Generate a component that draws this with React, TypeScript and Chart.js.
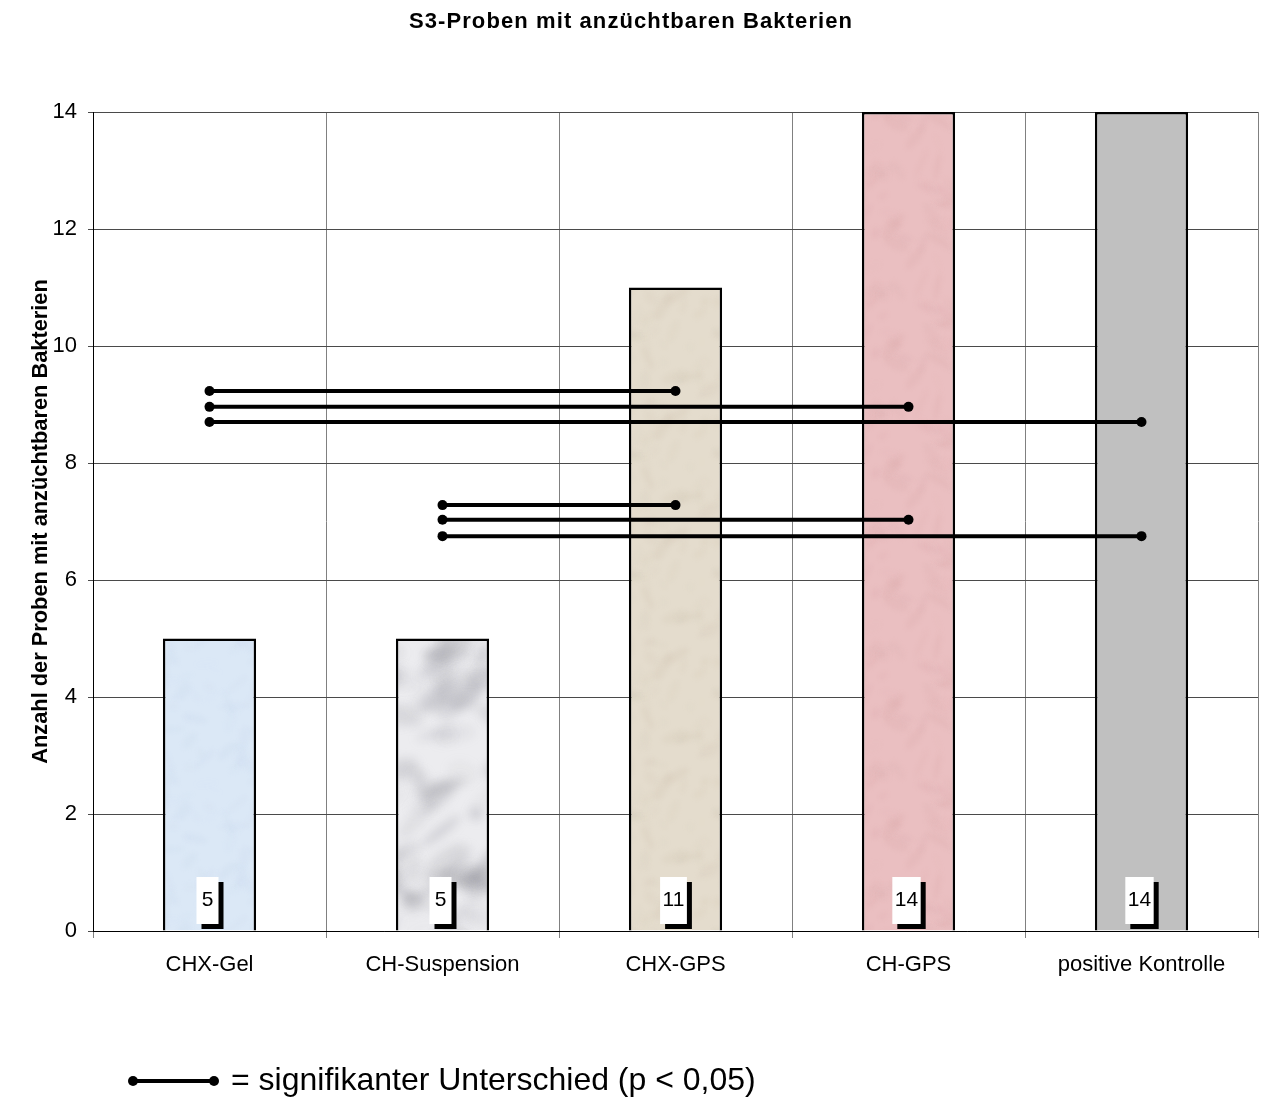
import React, { useEffect, useRef } from 'react';
import { Chart, registerables } from 'chart.js';

Chart.register(...registerables);

// ---- data ----
const categories = ['CHX-Gel', 'CH-Suspension', 'CHX-GPS', 'CH-GPS', 'positive Kontrolle'];
const counts = [5, 5, 11, 14, 14];
const barColors = ['#dbe8f6', '#ececef', '#e4dccd', '#eabfc1', '#c0c0c0'];
const blotchColors = ['#c3d4ea', '#8f8f98', '#cfc4b0', '#d8a6a8', '#c0c0c0'];

const sigFrom = ['CHX-Gel', 'CHX-Gel', 'CHX-Gel', 'CH-Suspension', 'CH-Suspension', 'CH-Suspension'];
const sigTo = ['CHX-GPS', 'CH-GPS', 'positive Kontrolle', 'CHX-GPS', 'CH-GPS', 'positive Kontrolle'];
const sigLevel = [9.23, 8.96, 8.7, 7.28, 7.03, 6.75];

const yMin = 0;
const yMax = 14;
const yStep = 2;

const titleText = 'S3-Proben mit anzüchtbaren Bakterien';
const yTitleText = 'Anzahl der Proben mit anzüchtbaren Bakterien';
const legendText = '= signifikanter Unterschied (p < 0,05)';

const FONT = '"Liberation Sans", Arial, Helvetica, sans-serif';

function makeTexture(base: string, blotch: string, seed: number, marble: boolean) {
  const w = 96;
  const h = marble ? 300 : 120;
  const c = document.createElement('canvas');
  c.width = w;
  c.height = h;
  const g = c.getContext('2d')!;
  g.fillStyle = base;
  g.fillRect(0, 0, w, h);
  let s = seed;
  const rnd = () => {
    s = (s * 1103515245 + 12345) % 2147483648;
    return s / 2147483648;
  };
  (g as any).filter = `blur(${marble ? 5 : 2}px)`;
  g.fillStyle = blotch;
  const n = marble ? 70 : 36;
  for (let i = 0; i < n; i++) {
    g.globalAlpha = (marble ? 0.3 : 0.22) * rnd();
    const x = rnd() * w;
    const y = rnd() * h;
    const rx = marble ? 6 + rnd() * 22 : 4 + rnd() * 12;
    const ry = marble ? 3 + rnd() * 9 : 2 + rnd() * 4;
    const a = marble ? -0.9 + rnd() * 1.4 : rnd() * Math.PI;
    for (const dx of [-w, 0, w]) {
      for (const dy of [-h, 0, h]) {
        g.beginPath();
        g.ellipse(x + dx, y + dy, rx, ry, a, 0, Math.PI * 2);
        g.fill();
      }
    }
  }
  g.globalAlpha = 1;
  return g.createPattern(c, 'repeat');
}

export default function App() {
  const ref = useRef<HTMLCanvasElement>(null);

  useEffect(() => {
    document.body.style.margin = '0';
    const canvas = ref.current!;
    const ctx2d = canvas.getContext('2d')!;

    const patterns = barColors.map((c, i) =>
      i === 4 ? c : makeTexture(c, blotchColors[i], 17 + i * 31, i === 1)
    );

    const sigDatasets = sigLevel.map((lvl, i) => ({
      type: 'line' as const,
      data: [
        { x: sigFrom[i], y: lvl },
        { x: sigTo[i], y: lvl },
      ],
      borderColor: '#000',
      borderWidth: 4,
      pointRadius: 5,
      pointBackgroundColor: '#000',
      pointBorderWidth: 0,
      pointHoverRadius: 5,
      fill: false,
      order: 0,
    }));

    const overlay = {
      id: 'overlay',
      afterDatasetsDraw(chart: any) {
        const c = chart.ctx;
        const meta = chart.getDatasetMeta(0);
        const y0 = chart.scales.y.getPixelForValue(0);
        c.save();
        c.font = `21px ${FONT}`;
        meta.data.forEach((bar: any, i: number) => {
          const txt = String(counts[i]);
          const tw = c.measureText(txt).width;
          const w = Math.max(22, tw + 5);
          const h = 47;
          const cx = bar.x - 2;
          const left = cx - w / 2;
          const top = y0 - 7 - h;
          c.fillStyle = '#000';
          c.fillRect(left + 5, top + 5, w, h);
          c.fillStyle = '#fff';
          c.fillRect(left, top, w, h);
          c.fillStyle = '#000';
          c.textAlign = 'center';
          c.textBaseline = 'middle';
          c.fillText(txt, cx, top + h / 2);
        });
        c.restore();
      },
      afterDraw(chart: any) {
        const c = chart.ctx;
        const area = chart.chartArea;
        c.save();
        // title
        c.fillStyle = '#000';
        c.font = `bold 22px ${FONT}`;
        (c as any).letterSpacing = '1.1px';
        c.textAlign = 'center';
        c.textBaseline = 'middle';
        c.fillText(titleText, 631, 22);
        (c as any).letterSpacing = '0px';
        // y title
        c.save();
        c.translate(41, (area.top + area.bottom) / 2);
        c.rotate(-Math.PI / 2);
        c.font = `bold 21.8px ${FONT}`;
        c.textAlign = 'center';
        c.textBaseline = 'middle';
        c.fillText(yTitleText, 0, 0);
        c.restore();
        // legend
        const ly = 1081;
        c.strokeStyle = '#000';
        c.lineWidth = 4;
        c.beginPath();
        c.moveTo(133, ly);
        c.lineTo(214, ly);
        c.stroke();
        c.beginPath();
        c.arc(133, ly, 5, 0, Math.PI * 2);
        c.fill();
        c.beginPath();
        c.arc(214, ly, 5, 0, Math.PI * 2);
        c.fill();
        c.font = `32px ${FONT}`;
        c.textAlign = 'left';
        c.textBaseline = 'middle';
        c.fillText(legendText, 231, ly);
        c.restore();
      },
    };

    const chart = new Chart(ctx2d, {
      type: 'bar',
      data: {
        labels: categories,
        datasets: [
          {
            type: 'bar',
            data: counts,
            backgroundColor: patterns as any,
            borderColor: '#000',
            borderWidth: 2.5,
            borderSkipped: 'bottom',
            categoryPercentage: 1,
            barPercentage: 0.4,
            order: 1,
          } as any,
          ...sigDatasets,
        ],
      },
      options: {
        animation: false,
        responsive: false,
        maintainAspectRatio: false,
        events: [],
        layout: { padding: { left: 0, right: 3, top: 112, bottom: 124 } },
        plugins: {
          legend: { display: false },
          title: { display: false },
          tooltip: { enabled: false },
        },
        scales: {
          x: {
            type: 'category',
            offset: true,
            grid: {
              offset: true,
              color: '#808080',
              lineWidth: 1,
              tickLength: 7,
              drawOnChartArea: true,
            },
            border: { color: '#000', width: 1 },
            ticks: {
              color: '#000',
              font: { family: FONT, size: 22 },
              padding: 14,
              maxRotation: 0,
              autoSkip: false,
            },
            afterFit(scale: any) {
              scale.height = 60;
            },
          },
          y: {
            min: yMin,
            max: yMax,
            grid: {
              color: '#4a4a4a',
              lineWidth: 1,
              tickLength: 5,
            },
            border: { color: '#000', width: 1 },
            ticks: {
              stepSize: yStep,
              color: '#000',
              font: { family: FONT, size: 22 },
              padding: 11,
            },
            afterFit(scale: any) {
              scale.width = 93;
            },
          },
        },
      },
      plugins: [overlay],
    } as any);

    return () => chart.destroy();
  }, []);

  return (
    <div style={{ width: 1263, height: 1115, background: '#fff' }}>
      <canvas ref={ref} width={1263} height={1115} style={{ display: 'block' }} />
    </div>
  );
}
